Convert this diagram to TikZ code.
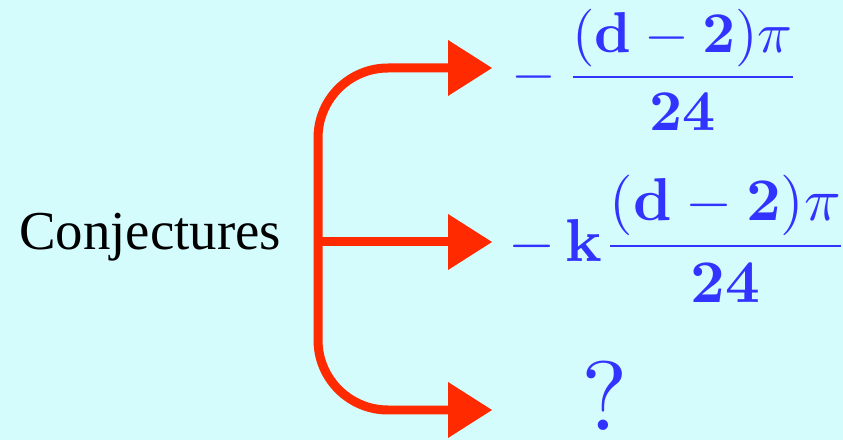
\documentclass[tikz,border=0pt]{standalone}
\usepackage[no-math]{fontspec}
\setmainfont{Liberation Serif}
\newfontfamily\conjfont{Liberation Serif}
\usetikzlibrary{arrows.meta}
\definecolor{bgcyan}{RGB}{212,252,253}
\definecolor{arrred}{RGB}{255,42,0}
\definecolor{mathblue}{RGB}{51,51,255}

\begin{document}
\begin{tikzpicture}[
    lbl/.style={inner sep=0pt, anchor=base, font=\conjfont\fontsize{39}{44}\selectfont},
    res/.style={inner sep=0pt, anchor=base west, text=mathblue, scale=4.1},
    arr/.style={-{Triangle[length=1.1cm, width=1.4cm, line width=0pt]}, line width=6.4pt, draw=arrred, rounded corners=1.75cm}
]
\useasboundingbox (0,0) rectangle (21.075,11);
\fill[bgcyan] (0,0) rectangle (21.075,11);

\node[lbl] (conj) at (3.75,4.75) {Conjectures};
\coordinate (fork) at (7.95,4.95);
\coordinate (tip1) at (12.3,9.3);
\coordinate (tip2) at (12.3,4.95);
\coordinate (tip3) at (12.3,0.75);

\node[res] (frac1) at (12.75,8.72) {$\displaystyle -\,\frac{(\mathbf{d}-\mathbf{2})\pi}{\mathbf{24}}$};
\node[res, scale=1.05] (frac2) at (12.69,4.47) {$\displaystyle -\,\mathbf{k}\frac{(\mathbf{d}-\mathbf{2})\pi}{\mathbf{24}}$};
\node[res, scale=1.71] (quest) at (14.49,0.25) {$?$};

\draw[arr] (fork) |- (tip1);
\draw[arr] (fork) -- (tip2);
\draw[arr] (fork) |- (tip3);
\end{tikzpicture}
\end{document}
